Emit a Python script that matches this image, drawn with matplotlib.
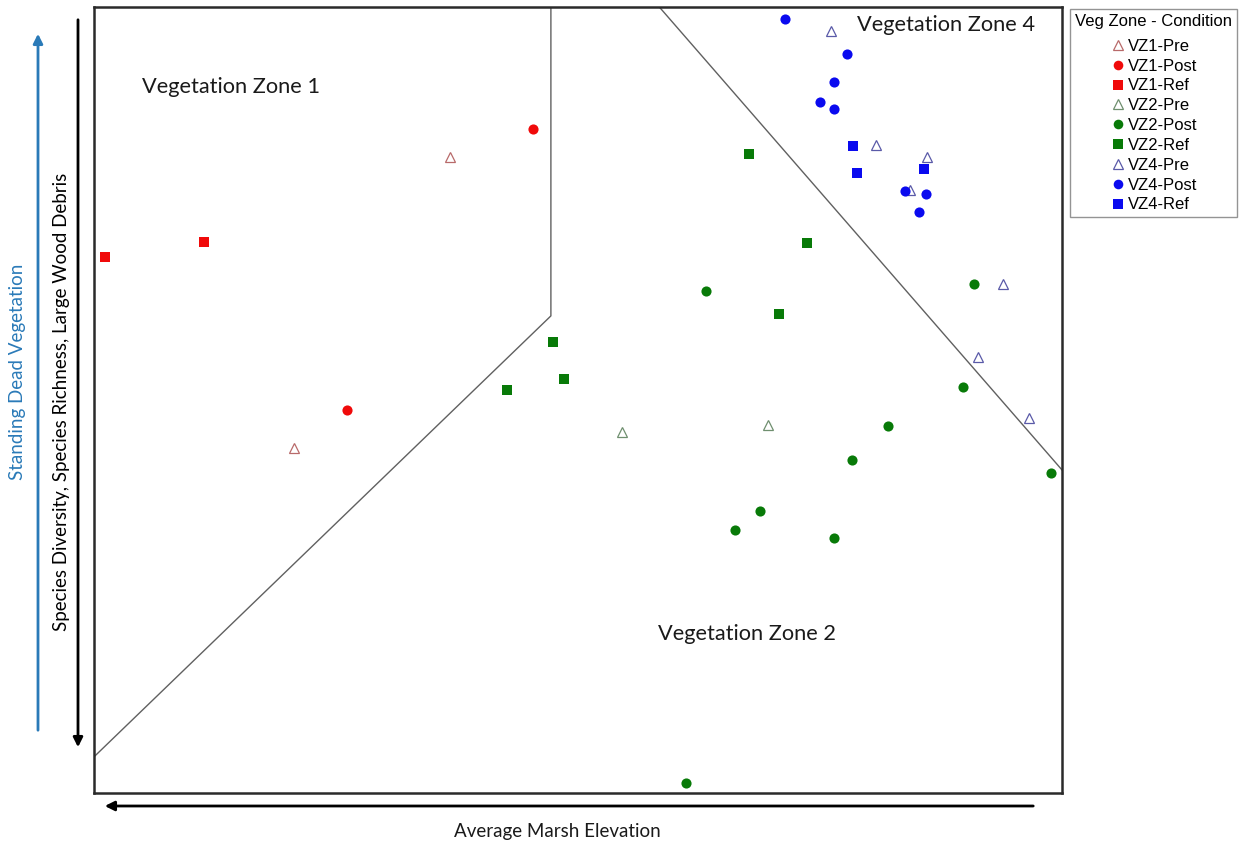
import matplotlib
matplotlib.use("Agg")
import matplotlib.pyplot as plt
from matplotlib.lines import Line2D

# ordination scores (axis units 0-100)
vz1_pre_x = [36.8, 20.7]
vz1_pre_y = [80.9, 43.9]
vz1_post_x = [45.4, 26.1]
vz1_post_y = [84.5, 48.7]
vz1_ref_x = [1.1, 11.4]
vz1_ref_y = [68.2, 70.1]

vz2_pre_x = [54.5, 69.6]
vz2_pre_y = [45.9, 46.8]
vz2_post_x = [63.2, 90.9, 89.8, 82.0, 78.3, 68.8, 66.2, 76.4, 98.9, 61.2]
vz2_post_y = [63.9, 64.8, 51.7, 46.7, 42.4, 35.9, 33.5, 32.4, 40.7, 1.3]
vz2_ref_x = [67.7, 73.7, 70.8, 47.4, 48.6, 42.7]
vz2_ref_y = [81.3, 70.0, 60.9, 57.4, 52.7, 51.3]

vz4_pre_x = [76.1, 80.8, 86.1, 84.3, 93.9, 91.3, 96.6]
vz4_pre_y = [96.9, 82.4, 80.9, 76.7, 64.8, 55.5, 47.7]
vz4_post_x = [71.4, 77.8, 76.4, 75.0, 76.4, 83.8, 86.0, 85.2]
vz4_post_y = [98.5, 94.0, 90.5, 87.9, 87.0, 76.6, 76.2, 73.9]
vz4_ref_x = [78.4, 78.8, 85.7]
vz4_ref_y = [82.3, 78.9, 79.4]

# zone boundary lines
zone1_x = [47.2, 47.2, 0.0]
zone1_y = [100.0, 60.7, 4.6]
zone4_x = [58.4, 100.0]
zone4_y = [100.0, 41.1]

zone_labels = ["Vegetation Zone 1", "Vegetation Zone 2", "Vegetation Zone 4"]
zone_label_x = [5.0, 58.3, 78.8]
zone_label_y = [89.8, 20.2, 97.7]

red = "#f00a0a"
green = "#087a08"
blue = "#0a0aef"

series = [
    ("VZ1-Pre", vz1_pre_x, vz1_pre_y, "^", "none", "#b86a6a"),
    ("VZ1-Post", vz1_post_x, vz1_post_y, "o", red, red),
    ("VZ1-Ref", vz1_ref_x, vz1_ref_y, "s", red, red),
    ("VZ2-Pre", vz2_pre_x, vz2_pre_y, "^", "none", "#6f8f6f"),
    ("VZ2-Post", vz2_post_x, vz2_post_y, "o", green, green),
    ("VZ2-Ref", vz2_ref_x, vz2_ref_y, "s", green, green),
    ("VZ4-Pre", vz4_pre_x, vz4_pre_y, "^", "none", "#5a5aa8"),
    ("VZ4-Post", vz4_post_x, vz4_post_y, "o", blue, blue),
    ("VZ4-Ref", vz4_ref_x, vz4_ref_y, "s", blue, blue),
]

fig = plt.figure(figsize=(12.42, 8.42), dpi=100)
ax = fig.add_axes([94 / 1242, 49 / 842, 968 / 1242, 786 / 842])

ax.plot(zone1_x, zone1_y, color="#606060", lw=1.0, zorder=1)
ax.plot(zone4_x, zone4_y, color="#606060", lw=1.0, zorder=1)

handles = []
for name, xs, ys, mk, fc, ec in series:
    if mk == "^":
        ms, mew = 7.5, 0.9
    else:
        ms, mew = 7.3, 0
    ax.plot(xs, ys, linestyle="none", marker=mk, markersize=ms,
            markerfacecolor=fc, markeredgecolor=ec, markeredgewidth=mew, zorder=3)
    handles.append(Line2D([], [], linestyle="none", marker=mk, markersize=ms * 0.95,
                          markerfacecolor=fc, markeredgecolor=ec,
                          markeredgewidth=mew, label=name))

for t, x, y in zip(zone_labels, zone_label_x, zone_label_y):
    ax.text(x, y, t, fontsize=15.7, family="Lato", color="#1a1a1a",
            ha="left", va="center")

ax.set_xlim(0, 100)
ax.set_ylim(0, 100)
ax.set_xticks([])
ax.set_yticks([])
for s in ax.spines.values():
    s.set_linewidth(1.8)
    s.set_color("#2a2a2a")

leg = fig.legend(handles=handles, title="Veg Zone - Condition",
                 loc="upper left", bbox_to_anchor=(1070 / 1242, 1 - 9 / 842),
                 frameon=True, fancybox=False, edgecolor="#7a7a7a",
                 prop={"family": "Liberation Sans", "size": 12},
                 title_fontproperties={"family": "Liberation Sans", "size": 12},
                 labelspacing=0.29, handletextpad=0.15, handlelength=0.9,
                 borderpad=0.3, borderaxespad=0)
leg.get_frame().set_linewidth(1.0)
leg._legend_box.align = "center"
leg._legend_box.sep = 7

# direction arrows outside the plot box
ax.annotate("", xy=(38 / 1242, 1 - 31 / 842), xytext=(38 / 1242, 1 - 733 / 842),
            xycoords="figure fraction", textcoords="figure fraction",
            arrowprops=dict(arrowstyle="-|>", color="#2a7ab8", lw=2,
                            mutation_scale=14))
ax.annotate("", xy=(78 / 1242, 1 - 750 / 842), xytext=(78 / 1242, 1 - 17 / 842),
            xycoords="figure fraction", textcoords="figure fraction",
            arrowprops=dict(arrowstyle="-|>", color="black", lw=2,
                            mutation_scale=14))
ax.annotate("", xy=(102 / 1242, 1 - 806 / 842), xytext=(1036 / 1242, 1 - 806 / 842),
            xycoords="figure fraction", textcoords="figure fraction",
            arrowprops=dict(arrowstyle="-|>", color="black", lw=2,
                            mutation_scale=14))

fig.text(18 / 1242, 1 - 372 / 842, "Standing Dead Vegetation", rotation=90,
         ha="center", va="center", color="#2a7ab8", fontsize=13.5, family="Lato")
fig.text(62 / 1242, 1 - 402 / 842,
         "Species Diversity, Species Richness, Large Wood Debris", rotation=90,
         ha="center", va="center", color="black", fontsize=13.5, family="Lato")
fig.text(557 / 1242, 1 - 831 / 842, "Average Marsh Elevation",
         ha="center", va="center", color="#1a1a1a", fontsize=13.5, family="Lato")

fig.savefig("out.png", dpi=100)
